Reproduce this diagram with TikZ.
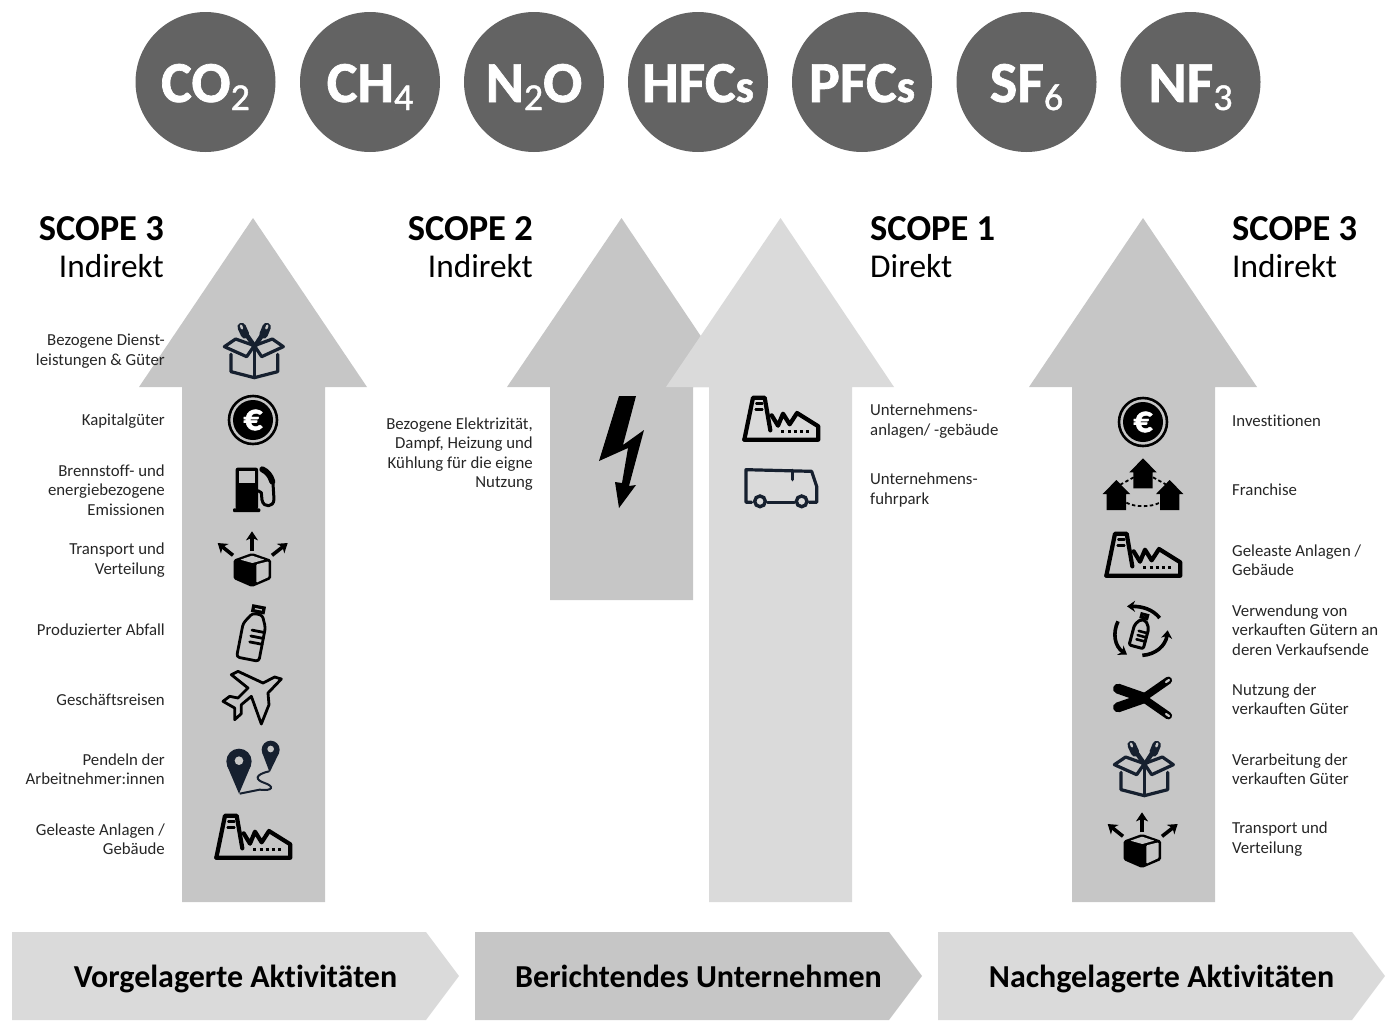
\documentclass[tikz,border=0pt]{standalone}
\usepackage{fontspec}
\setmainfont[Ligatures=NoCommon]{Carlito}
\newfontfamily\gasfont[FakeBold=1.2,Ligatures=NoCommon]{Carlito}
\usetikzlibrary{arrows.meta}
\definecolor{gasgray}{HTML}{636363}
\definecolor{arrowmid}{HTML}{C6C6C6}
\definecolor{arrowlight}{HTML}{DADADA}
\definecolor{navyicon}{HTML}{16202F}
\newcommand{\gassub}[1]{\raisebox{-8pt}{\fontsize{38}{38}\selectfont\mdseries #1}}
\newcommand{\gass}{{\fontsize{46}{46}\selectfont s}}
\tikzset{
  gas/.style={circle,fill=gasgray,minimum size=140pt,inner sep=0pt,text=white,text height=40pt,text depth=0pt,font=\fontsize{58}{58}\selectfont\bfseries},
  bigarrow/.style={fill=#1,draw=none},
  chevron/.style={fill=#1,draw=none},
  chevlabel/.style={font=\fontsize{32}{34}\selectfont\bfseries,text=black,anchor=base},
  scopetitle/.style={font=\fontsize{36.5}{38}\selectfont\bfseries,text=black,inner sep=0pt},
  scopesub/.style={font=\fontsize{33.3}{35}\selectfont,text=black,inner sep=0pt},
  itemr/.style={font=\fontsize{16.8}{19.4}\selectfont,align=right,anchor=east,inner sep=0pt,text=black!85},
  iteml/.style={font=\fontsize{16.8}{19.4}\selectfont,align=left,anchor=west,inner sep=0pt,text=black!85},
  ic/.style={x=.3333pt,y=-.3333pt},
  iline/.style={line width=#1,line join=round,line cap=round},
  pics/factoryicon/.style={code={
    \begin{scope}[ic,shift={(-144,-99)}]
      \draw[iline=4.2pt,black] (34,158)--(60,32)--(95,32)--(112,130);
      \draw[iline=4.2pt,black] (34,158)--(256,158)--(256,118)--(192,78)--(170,112)--(150,80)--(135,116)--(116,85);
      \draw[iline=2.6pt,black] (70,50)--(88,50) (68,68)--(88,68);
      \draw[line width=3.4pt,black,dash pattern=on 3pt off 3.2pt] (145,133)--(232,133);
    \end{scope}}},
  pics/coinicon/.style={code={
    \draw[black,line width=2.6pt] (0,0) circle (24);
    \fill[black] (0,0) circle (20);
    \node[text=white,font=\gasfont\fontsize{38}{38}\selectfont\bfseries,inner sep=0pt] (-coin) at (0,0) {€};}},
  pics/boxicon/.style={code={
    \begin{scope}[ic,shift={(-114,-105)}]
      \draw[iline=3.2pt,navyicon] (48,118)--(48,170)--(118,188)--(188,170)--(188,118);
      \draw[iline=3.2pt,navyicon] (118,92)--(118,188);
      \draw[iline=3.2pt,navyicon] (28,95)--(62,72)--(118,92)--(172,72)--(205,95)--(140,125)--(118,92)--(95,125)--cycle;
      \draw[line width=4.5pt,line cap=round,navyicon] (116,90)--(88,50) (122,90)--(148,50);
      \draw[line width=8.5pt,line cap=round,navyicon] (90,58)--(80,36) (146,58)--(155,36);
      \draw[line width=2.4pt,line cap=round,arrowmid] (81,40)--(78,32) (154,40)--(157,32);
    \end{scope}}},
  pics/pumpicon/.style={code={
    \begin{scope}[ic,shift={(-370,-570)}]
      \fill[black,rounded corners=2pt] (318,503) rectangle (385,628);
      \fill[black,rounded corners=1pt] (310,625) rectangle (392,636);
      \fill[arrowmid] (328,513) rectangle (375,550);
      \draw[iline=3pt,black] (385,572)--(395,578)--(397,600) .. controls (402,625) and (432,622) .. (433,598)--(430,550);
      \draw[line width=6pt,line cap=round,black] (428,545) .. controls (422,525) and (412,515) .. (398,508);
    \end{scope}}},
  pics/spreadicon/.style={code={
    \begin{scope}[ic,shift={(-365,-770)}]
      \fill[black,rounded corners=1.5pt] (365,758)--(422,778)--(422,836)--(365,860)--(310,836)--(310,778)--cycle;
      \fill[#1,rounded corners=1pt] (378,792)--(415,783)--(415,830)--(378,847)--cycle;
      \fill[#1,rounded corners=.5pt] (330,778)--(365,766)--(402,778)--(366,788)--cycle;
      \draw[line width=3.6pt,black,-{Stealth[length=9pt,width=12pt,inset=2.5pt]}] (365,752)--(365,693);
      \draw[line width=3.6pt,black,-{Stealth[length=9pt,width=12pt,inset=2.5pt]}] (308,765)--(262,728);
      \draw[line width=3.6pt,black,-{Stealth[length=9pt,width=12pt,inset=2.5pt]}] (425,765)--(472,728);
    \end{scope}}},
  pics/bottleicon/.style={code={
    \begin{scope}[rotate=-11,ic,shift={(-220,-125)}]
      \draw[iline=2.8pt,black,rounded corners=3pt] (208,70)--(238,70)--(254,105)--(254,208)--(186,208)--(186,105)--cycle;
      \draw[line width=3.2pt,black] (207,48) rectangle (239,62);
      \draw[iline=2.8pt,black] (216,120)--(254,120) (216,138)--(254,138) (216,156)--(254,156);
    \end{scope}}},
  pics/planeicon/.style={code={
    \begin{scope}[ic,shift={(-220,-325)}]
      \draw[iline=2.8pt,black] (305,268)--(265,310)--(268,345)--(245,403)--(215,320)--(185,345)--(185,372)--(165,390)--(165,355)--(130,335)--(150,320)--(175,325)--(205,295)--(155,255)--(175,245)--(250,280)--(285,262)--cycle;
    \end{scope}}},
  pics/pinicon/.style={code={
    \begin{scope}[ic,shift={(-220,-535)}]
      \fill[navyicon] (178,515) circle (38);
      \fill[navyicon] (142,527)--(178,612)--(214,527)--cycle;
      \fill[arrowmid] (178,513) circle (13);
      \fill[navyicon] (273,480) circle (27);
      \fill[navyicon] (248,490)--(270,548)--(298,490)--cycle;
      \fill[arrowmid] (273,478) circle (10);
      \draw[line width=2pt,navyicon] (268,545) .. controls (225,555) and (225,570) .. (255,580) .. controls (285,590) and (280,605) .. (240,600) -- (180,612);
    \end{scope}}},
  pics/truckicon/.style={code={
    \begin{scope}[ic,shift={(-600,-325)}]
      \draw[iline=3.2pt,navyicon] (515,368)--(498,368)--(498,270)--(695,275)--(710,320)--(710,368)--(688,368);
      \draw[iline=3.2pt,navyicon] (563,368)--(643,368);
      \draw[iline=3.2pt,navyicon] (637,272)--(637,300);
      \draw[line width=3.4pt,navyicon] (540,365) circle (16) (665,365) circle (16);
    \end{scope}}},
  pics/boltfranchise/.style={code={
    \begin{scope}[ic,shift={(-160,-285)}]
      \foreach \hx/\hy in {160/205,80/270,240/270}{
        \fill[black] (\hx,\hy)--(\hx+41,\hy+42)--(\hx+29,\hy+42)--(\hx+29,\hy+90)--(\hx-29,\hy+90)--(\hx-29,\hy+42)--(\hx-41,\hy+42)--cycle;}
      \draw[line width=1.8pt,black,dash pattern=on 3.5pt off 2.5pt] (132,262)--(90,285) (190,262)--(232,285);
      \draw[line width=1.8pt,black,dash pattern=on 3.5pt off 2.5pt] (110,338) .. controls (135,352) and (185,352) .. (210,338);
    \end{scope}}},
  pics/recycleicon/.style={code={
    \begin{scope}[ic,shift={(-160,-715)}]
      \begin{scope}[shift={(152,725)},rotate=-15]
        \draw[iline=3pt,black,rounded corners=2pt] (-8,-35)--(8,-35)--(22,-15)--(22,48)--(-22,48)--(-22,-15)--cycle;
        \draw[line width=3pt,black] (-9,-52) rectangle (9,-42);
        \draw[iline=2.6pt,black] (-5,0)--(22,0) (-5,13)--(22,13) (-5,26)--(22,26);
      \end{scope}
      \draw[line width=3.6pt,black,-{Stealth[length=8pt,width=11pt,inset=2.5pt]}] (210,685) .. controls (190,660) and (160,650) .. (112,650);
      \draw[line width=3.6pt,black,-{Stealth[length=8pt,width=11pt,inset=2.5pt]}] (85,695) .. controls (68,730) and (75,770) .. (112,795);
      \draw[line width=3.6pt,black,-{Stealth[length=8pt,width=11pt,inset=2.5pt]}] (158,797) .. controls (195,795) and (228,770) .. (234,722);
    \end{scope}}},
  pics/ribbonicon/.style={code={
    \begin{scope}[ic,shift={(-160,-100)}]
      \draw[line width=7.5pt,line cap=round,black] (160,100)--(236,47) (160,100)--(236,153);
      \draw[line width=10pt,line cap=round,black] (85,128)--(165,100) (85,72)--(165,100);
      \draw[line width=2.2pt,line cap=round,arrowmid] (229,52)--(238,46) (229,148)--(238,154);
    \end{scope}}},
}
\begin{document}
\begin{tikzpicture}[x=1pt,y=-1pt]
\useasboundingbox (0,0) rectangle (1397,1028);
% gas circles
\node[gas] (co2) at (205.5,82) {\gasfont CO\gassub{2}};
\node[gas] (ch4) at (370,82) {\gasfont CH\gassub{4}};
\node[gas] (n2o) at (534,82) {\gasfont N\gassub{2}O};
\node[gas] (hfcs) at (698,82) {\gasfont HFC\gass};
\node[gas] (pfcs) at (862,82) {\gasfont PFC\gass};
\node[gas] (sf6) at (1026.5,82) {\gasfont SF\gassub{6}};
\node[gas] (nf3) at (1190.5,82) {\gasfont NF\gassub{3}};
% big arrows
\fill[bigarrow=arrowmid] (253,218)--(367,387)--(325,387)--(325,902)--(182,902)--(182,387)--(139,387)--cycle;
\fill[bigarrow=arrowmid] (621.5,218)--(735,387)--(693,387)--(693,600)--(550,600)--(550,387)--(507,387)--cycle;
\fill[bigarrow=arrowlight] (780.5,218)--(894,387)--(852,387)--(852,902)--(709,902)--(709,387)--(666,387)--cycle;
\fill[bigarrow=arrowmid] (1143,218)--(1257,387)--(1215,387)--(1215,902)--(1072,902)--(1072,387)--(1029,387)--cycle;
% chevrons
\fill[chevron=arrowlight] (12,932)--(426,932)--(459,976)--(426,1020)--(12,1020)--cycle;
\fill[chevron=arrowmid] (475,932)--(889,932)--(922,976)--(889,1020)--(475,1020)--cycle;
\fill[chevron=arrowlight] (938,932)--(1352,932)--(1385,976)--(1352,1020)--(938,1020)--cycle;
\node[chevlabel] (up) at (235.5,987) {Vorgelagerte Aktivitäten};
\node[chevlabel] (mid) at (698.5,987) {Berichtendes Unternehmen};
\node[chevlabel] (down) at (1161.5,987) {Nachgelagerte Aktivitäten};
% scope titles
\node[scopetitle,anchor=base east] (s3l) at (164,240) {SCOPE 3};
\node[scopesub,anchor=base east] (i3l) at (164,277) {Indirekt};
\node[scopetitle,anchor=base east] (s2) at (533,240) {SCOPE 2};
\node[scopesub,anchor=base east] (i2) at (533,277) {Indirekt};
\node[scopetitle,anchor=base west] (s1) at (870,240) {SCOPE 1};
\node[scopesub,anchor=base west] (d1) at (870,277) {Direkt};
\node[scopetitle,anchor=base west] (s3r) at (1232,240) {SCOPE 3};
\node[scopesub,anchor=base west] (i3r) at (1232,277) {Indirekt};
% left texts
\node[itemr] (t1) at (165,351) {Bezogene Dienst-\\leistungen \& Güter};
\node[itemr] (t2) at (165,421) {Kapitalgüter};
\node[itemr] (t3) at (165,490) {Brennstoff- und\\energiebezogene\\Emissionen};
\node[itemr] (t4) at (165,560) {Transport und\\Verteilung};
\node[itemr] (t5) at (165,630) {Produzierter Abfall};
\node[itemr] (t6) at (165,700) {Geschäftsreisen};
\node[itemr] (t7) at (165,769) {Pendeln der\\Arbeitnehmer:innen};
\node[itemr] (t8) at (165,839) {Geleaste Anlagen /\\Gebäude};
% middle texts
\node[itemr] (t9) at (533,454) {Bezogene Elektrizität,\\Dampf, Heizung und\\Kühlung für die eigne\\Nutzung};
\node[iteml] (t10) at (870,421) {Unternehmens-\\anlagen/ -gebäude};
\node[iteml] (t11) at (870,490) {Unternehmens-\\fuhrpark};
% right texts
\node[iteml] (t12) at (1232,421) {Investitionen};
\node[iteml] (t13) at (1232,490) {Franchise};
\node[iteml] (t14) at (1232,560) {Geleaste Anlagen /\\Gebäude};
\node[iteml] (t15) at (1232,630) {Verwendung von\\verkauften Gütern an\\deren Verkaufsende};
\node[iteml] (t16) at (1232,699) {Nutzung der\\verkauften Güter};
\node[iteml] (t17) at (1232,769) {Verarbeitung der\\verkauften Güter};
\node[iteml] (t18) at (1232,839) {Transport und\\Verteilung};
% icons left
\pic at (253,350) {boxicon};
\pic (lc) at (253,420) {coinicon};
\pic at (253,490) {pumpicon};
\pic at (252,557) {spreadicon=arrowmid};
\pic at (253,632) {bottleicon};
\pic at (253,698) {planeicon};
\pic at (253,768) {pinicon};
\pic at (253,838) {factoryicon};
% icons middle
\fill[black] (619,396)--(636,396)--(623,445)--(644,430)--(629,486)--(636,485)--(619,508)--(615,482)--(622,483)--(628,448)--(599,461)--cycle;
\pic at (781,420) {factoryicon};
\pic at (780,488) {truckicon};
% icons right
\pic (rc) at (1143,422) {coinicon};
\pic at (1143,485) {boltfranchise};
\pic at (1143,556) {factoryicon};
\pic at (1143,628) {recycleicon};
\pic at (1143,698) {ribbonicon};
\pic at (1143,768) {boxicon};
\pic at (1142,838) {spreadicon=arrowmid};
\end{tikzpicture}
\end{document}
